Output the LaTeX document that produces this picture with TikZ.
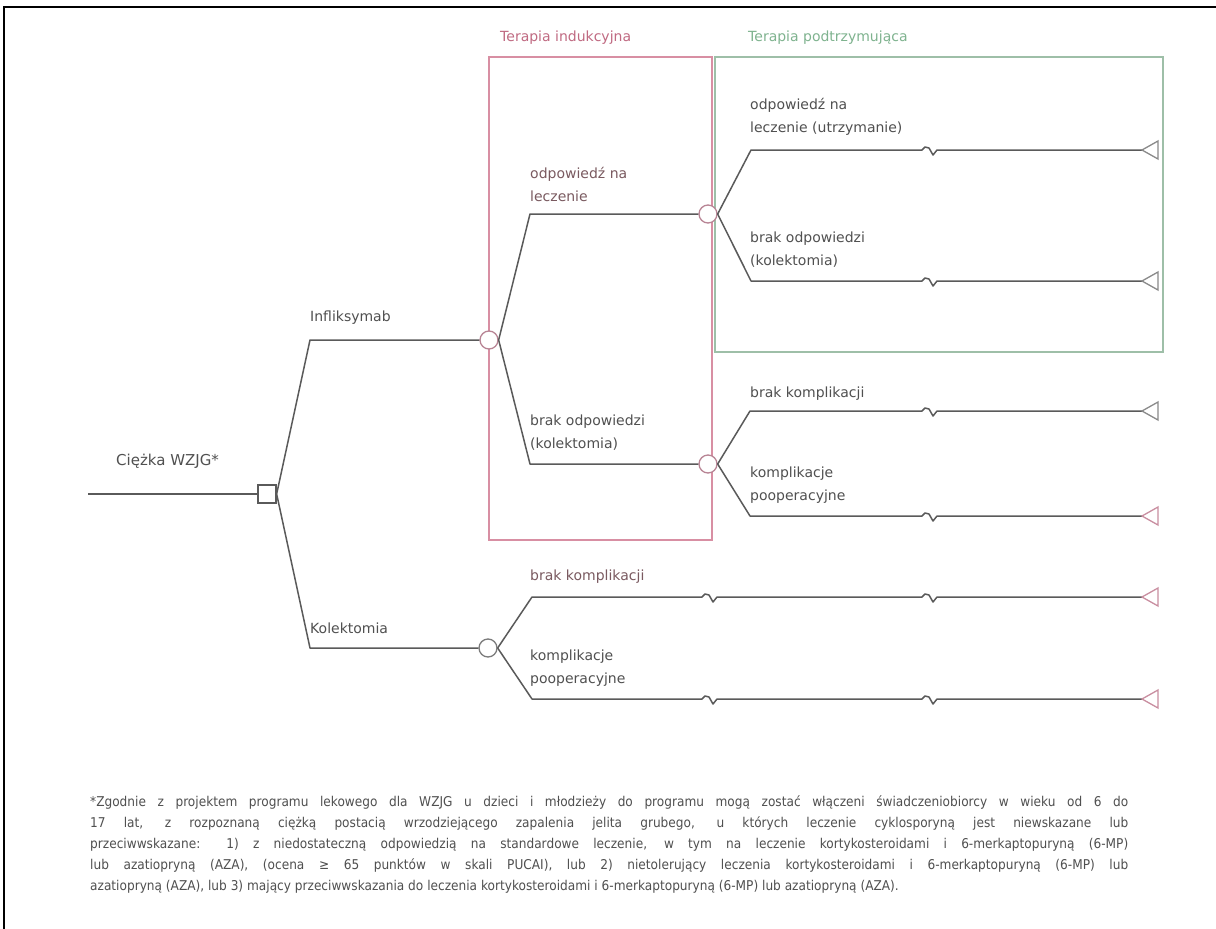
\documentclass[tikz,border=0pt]{standalone}
\usepackage{fontspec}
\setmainfont{DejaVu Sans}
\newfontfamily\fnfont[FakeStretch=0.9]{DejaVu Sans}
\definecolor{lineg}{HTML}{5A5A5A}
\definecolor{txtg}{HTML}{505050}
\definecolor{txtp}{HTML}{7A5A60}
\definecolor{pinkb}{HTML}{D88FA3}
\definecolor{greenb}{HTML}{9EBFA8}
\definecolor{pinkt}{HTML}{C06A82}
\definecolor{greent}{HTML}{7FB38F}
\definecolor{chancep}{HTML}{B88494}
\definecolor{termp}{HTML}{C98EA0}
\definecolor{termg}{HTML}{8A8A8A}
\newcommand{\zig}{-- ++(3,-3) -- ++(4,1) -- ++(4,7) -- ++(4,-5)}
\tikzset{
  conn/.style={draw=lineg, line width=1.5pt, line join=round},
  lbl/.style={font=\fontsize{14}{23}\selectfont, text=txtg, inner sep=0pt, anchor=west, align=left},
  ttl/.style={font=\fontsize{14}{17}\selectfont, inner sep=0pt, anchor=west},
  chance/.style={circle, draw=chancep, fill=white, minimum size=18pt, inner sep=0pt, line width=1.3pt},
  decision/.style={rectangle, draw=lineg, fill=white, minimum size=18pt, inner sep=0pt, line width=1.3pt},
  termtri/.style={draw=#1, fill=white, line width=1.3pt, line join=miter},
}
\begin{document}
\begin{tikzpicture}[x=1pt,y=-1pt]
\useasboundingbox (0,0) rectangle (1216,929);
\fill[white] (0,0) rectangle (1216,929);
\draw[black, line width=2pt] (4,929) -- (4,7) -- (1216,7);

% phase boxes
\draw[pinkb, line width=1.5pt] (489,57) rectangle (712,540);
\draw[greenb, line width=1.5pt] (715,57) rectangle (1163,352);
\node[ttl, text=pinkt] (tind) at (500,38) {Terapia indukcyjna};
\node[ttl, text=greent] (tpod) at (748,38) {Terapia podtrzymująca};

% root
\coordinate (root) at (88,494);
\node[decision] (d) at (267,494) {};
\draw[conn] (root) -- (d.west);
\node[lbl, font=\fontsize{15}{23}\selectfont] (lroot) at (116,461) {Ciężka WZJG*};

% first-level corners and chance nodes
\coordinate (cA) at (310,340);
\coordinate (cB) at (310,648);
\node[chance] (cInf) at (489,340) {};
\node[chance, draw=lineg!80] (cKol) at (488,648) {};
\draw[conn] (d.east) -- (cA) -- (cInf.west);
\draw[conn] (d.east) -- (cB) -- (cKol.west);
\node[lbl] (linf) at (310,318) {Infliksymab};
\node[lbl] (lkol) at (310,628) {Kolektomia};

% Infliksymab branches
\coordinate (cC) at (530,214);
\coordinate (cD) at (530,464);
\node[chance] (cResp) at (708,214) {};
\node[chance] (cNo) at (708,464) {};
\draw[conn] (cInf.east) -- (cC) -- (cResp.west);
\draw[conn] (cInf.east) -- (cD) -- (cNo.west);
\node[lbl, text=txtp] (lresp) at (530,184.5) {odpowiedź na\\leczenie};
\node[lbl] (lnoresp) at (530,432.5) {brak odpowiedzi\\(kolektomia)};

% maintenance branches
\coordinate (cE) at (751,150);
\coordinate (cF) at (751,281);
\coordinate (t1) at (1142,150);
\coordinate (t2) at (1142,281);
\draw[conn] (cResp.east) -- (cE) -- ++(171,0) \zig -- (t1);
\draw[conn] (cResp.east) -- (cF) -- ++(171,0) \zig -- (t2);
\draw[termtri=termg] (t1) -- ++(16,-9) -- ++(0,18) -- cycle;
\draw[termtri=termg] (t2) -- ++(16,-9) -- ++(0,18) -- cycle;
\node[lbl] (lmaint) at (750,116.5) {odpowiedź na\\leczenie (utrzymanie)};
\node[lbl] (lcol1) at (750,250) {brak odpowiedzi\\(kolektomia)};

% no-response colectomy branches
\coordinate (cG) at (750,411);
\coordinate (cH) at (750,516);
\coordinate (t3) at (1142,411);
\coordinate (t4) at (1142,516);
\draw[conn] (cNo.east) -- (cG) -- ++(172,0) \zig -- (t3);
\draw[conn] (cNo.east) -- (cH) -- ++(172,0) \zig -- (t4);
\draw[termtri=termg] (t3) -- ++(16,-9) -- ++(0,18) -- cycle;
\draw[termtri=termp] (t4) -- ++(16,-9) -- ++(0,18) -- cycle;
\node[lbl] (lbk1) at (750,394) {brak komplikacji};
\node[lbl] (lkp1) at (750,485.5) {komplikacje\\pooperacyjne};

% colectomy branches
\coordinate (cI) at (532,597);
\coordinate (cJ) at (532,699);
\coordinate (t5) at (1142,597);
\coordinate (t6) at (1142,699);
\draw[conn] (cKol.east) -- (cI) -- ++(170,0) \zig -- ++(205,0) \zig -- (t5);
\draw[conn] (cKol.east) -- (cJ) -- ++(170,0) \zig -- ++(205,0) \zig -- (t6);
\draw[termtri=termp] (t5) -- ++(16,-9) -- ++(0,18) -- cycle;
\draw[termtri=termp] (t6) -- ++(16,-9) -- ++(0,18) -- cycle;
\node[lbl, text=txtp] (lbk2) at (530,577) {brak komplikacji};
\node[lbl] (lkp2) at (530,668.5) {komplikacje\\pooperacyjne};

% footnote
\node[anchor=north west, inner sep=0pt, text width=1038pt, align=justify,
      font=\fnfont\fontsize{13.5}{21}\selectfont, text=txtg] (fn) at (90,795)
{\tolerance=10000 *Zgodnie z projektem programu lekowego dla WZJG u dzieci i młodzieży do programu mogą zostać włączeni świadczeniobiorcy w wieku od 6 do\linebreak
17 lat, z rozpoznaną ciężką postacią wrzodziejącego zapalenia jelita grubego, u których leczenie cyklosporyną jest niewskazane lub\linebreak
przeciwwskazane: 1) z niedostateczną odpowiedzią na standardowe leczenie, w tym na leczenie kortykosteroidami i 6-merkaptopuryną (6-MP)\linebreak
lub azatiopryną (AZA), (ocena ≥ 65 punktów w skali PUCAI), lub 2) nietolerujący leczenia kortykosteroidami i 6-merkaptopuryną (6-MP) lub\linebreak
azatiopryną (AZA), lub 3) mający przeciwwskazania do leczenia kortykosteroidami i 6-merkaptopuryną (6-MP) lub azatiopryną (AZA).};
\end{tikzpicture}
\end{document}
